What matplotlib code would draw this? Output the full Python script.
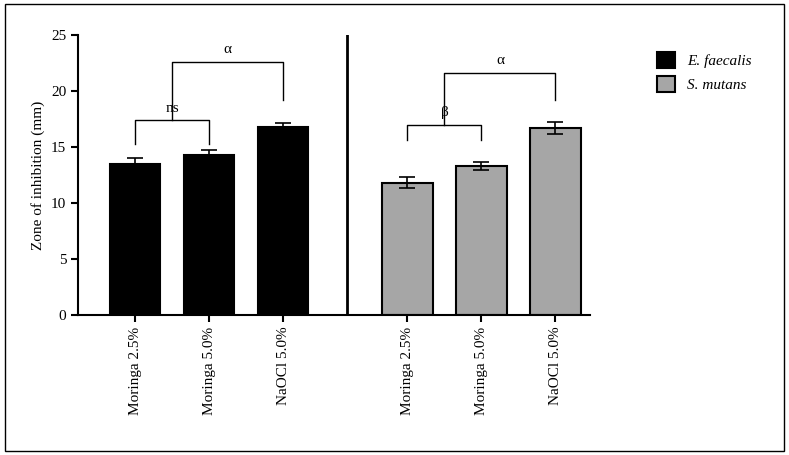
import matplotlib.pyplot as plt
from matplotlib.patches import Rectangle

plt.rcParams["font.family"] = "Liberation Serif"

labels = ["Moringa 2.5%", "Moringa 5.0%", "NaOCl 5.0%"]
ef_vals = [13.5, 14.3, 16.8]
ef_err = [0.5, 0.4, 0.3]
sm_vals = [11.8, 13.3, 16.7]
sm_err = [0.5, 0.4, 0.5]
y_ticks = [0, 5, 10, 15, 20, 25]

x_ef = [0, 1, 2]
x_sm = [3.68, 4.68, 5.68]
w = 0.68

fig = plt.figure(figsize=(7.89, 4.55), dpi=100)
fig.patches.append(Rectangle((0.006, 0.008), 0.988, 0.984, transform=fig.transFigure,
                             fill=False, edgecolor="black", lw=1))
ax = fig.add_axes([0.099, 0.308, 0.649, 0.615])

ax.bar(x_ef, ef_vals, w, color="black", edgecolor="black", lw=1.5, label="E. faecalis")
ax.errorbar(x_ef, ef_vals, yerr=ef_err, fmt="none", ecolor="black", capsize=6, lw=1.2, capthick=1.2)
ax.bar(x_sm, sm_vals, w, color="#a6a6a6", edgecolor="black", lw=1.5, label="S. mutans")
ax.errorbar(x_sm, sm_vals, yerr=sm_err, fmt="none", ecolor="black", capsize=6, lw=1.2, capthick=1.2)

def bracket(x1, x2, top, y1, y2, text):
    ax.plot([x1, x1, x2, x2], [y1, top, top, y2], color="black", lw=1)
    ax.text((x1 + x2) / 2, top + 0.5, text, ha="center", va="bottom", fontsize=11)

bracket(x_ef[0], x_ef[1], 17.4, 15.3, 15.3, "ns")
bracket((x_ef[0] + x_ef[1]) / 2, x_ef[2], 22.6, 17.4, 19.2, "α")
bracket(x_sm[0], x_sm[1], 17.0, 15.6, 15.6, "β")
bracket((x_sm[0] + x_sm[1]) / 2, x_sm[2], 21.6, 17.0, 19.2, "α")

ax.axvline(2.86, color="black", lw=2)
ax.set_xlim(-0.77, 6.15)
ax.set_ylim(0, 25)
ax.set_yticks(y_ticks)
ax.set_xticks(x_ef + x_sm)
ax.set_xticklabels(labels * 2, rotation=90, fontsize=11)
ax.tick_params(axis="y", labelsize=11, width=1.5, length=5)
ax.tick_params(axis="x", width=1.5, length=5)
ax.set_ylabel("Zone of inhibition (mm)", fontsize=11)
for s in ["top", "right"]:
    ax.spines[s].set_visible(False)
for s in ["left", "bottom"]:
    ax.spines[s].set_linewidth(1.5)

leg = fig.legend(loc="upper left", bbox_to_anchor=(0.815, 0.915), frameon=False,
                 fontsize=11, handlelength=1.2, handleheight=1.2)
for t in leg.get_texts():
    t.set_style("italic")

fig.savefig("out.png")
